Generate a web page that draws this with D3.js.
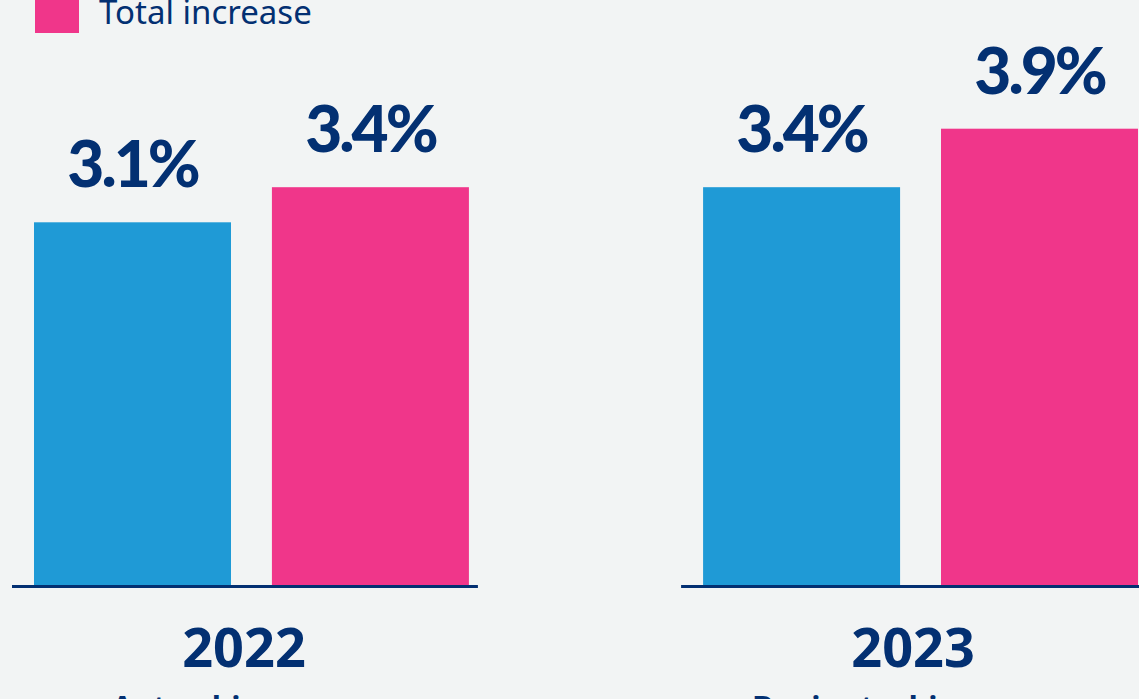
<!DOCTYPE html>
<html>
<head>
<meta charset="utf-8">
<script src="https://cdn.jsdelivr.net/npm/d3@7"></script>
<style>
  html, body { margin: 0; padding: 0; background: #f2f4f4; }
  svg { display: block; }
</style>
</head>
<body>
<svg id="chart"></svg>
<script>
// data
const years = ["2022", "2023"];
const yearNotes = ["Actual increase", "Projected increase"];
const series = ["Base increase", "Total increase"];
const baseValues = [3.1, 3.4];
const totalValues = [3.4, 3.9];

const width = 1139, height = 699;
const navy = "#033072";
const colors = { "Base increase": "#1f9ad6", "Total increase": "#f0368a" };

const svg = d3.select("#chart")
  .attr("width", width)
  .attr("height", height);

const rows = years.map(function (yr, i) {
  return { year: yr, note: yearNotes[i], values: [
    { key: series[0], value: baseValues[i] },
    { key: series[1], value: totalValues[i] }
  ] };
});

// scales
const x0 = d3.scaleBand()
  .domain(years)
  .range([34, 1138])
  .paddingInner(0.35)
  .paddingOuter(0);

const x1 = d3.scaleBand()
  .domain(series)
  .range([0, x0.bandwidth()])
  .paddingInner(0.172)
  .paddingOuter(0);

const y = d3.scaleLinear()
  .domain([0, 4])
  .range([585, 117]);

// legend (only the bottom item is visible)
const legend = svg.append("g").attr("transform", "translate(35, -11)");
legend.append("rect")
  .attr("width", 44)
  .attr("height", 44)
  .attr("fill", colors["Total increase"]);
legend.append("text")
  .attr("x", 64)
  .attr("y", 35)
  .attr("font-family", "'Noto Sans', 'Open Sans', sans-serif")
  .attr("font-size", 33)
  .attr("fill", navy)
  .text("Total increase");

const groups = svg.selectAll(".grp")
  .data(rows)
  .join("g")
  .attr("class", "grp")
  .attr("transform", function (d) { return `translate(${x0(d.year)}, 0)`; });

groups.selectAll("rect")
  .data(function (d) { return d.values; })
  .join("rect")
  .attr("x", function (d) { return x1(d.key); })
  .attr("y", function (d) { return y(d.value); })
  .attr("width", x1.bandwidth())
  .attr("height", function (d) { return y(0) - y(d.value); })
  .attr("fill", function (d) { return colors[d.key]; });

groups.selectAll(".val")
  .data(function (d) { return d.values; })
  .join("text")
  .attr("class", "val")
  .attr("x", function (d) { return x1(d.key) + x1.bandwidth() / 2; })
  .attr("y", function (d) { return y(d.value) - 35; })
  .attr("text-anchor", "middle")
  .attr("font-family", "Lato, sans-serif")
  .attr("font-weight", 900)
  .attr("font-size", 64)
  .attr("letter-spacing", -3)
  .attr("fill", navy)
  .text(function (d) { return d.value.toFixed(1) + "%"; });

// baseline
groups.append("line")
  .attr("x1", -22)
  .attr("x2", x0.bandwidth() + 9)
  .attr("y1", y(0) + 1.5)
  .attr("y2", y(0) + 1.5)
  .attr("stroke", navy)
  .attr("stroke-width", 3);

groups.append("text")
  .attr("x", 210)
  .attr("y", 667)
  .attr("text-anchor", "middle")
  .attr("font-family", "'Noto Sans', 'Open Sans', sans-serif")
  .attr("font-weight", 700)
  .attr("font-size", 54)
  .attr("fill", navy)
  .text(function (d) { return d.year; });

groups.append("text")
  .attr("x", 210)
  .attr("y", 722)
  .attr("text-anchor", "middle")
  .attr("font-family", "'Noto Sans', 'Open Sans', sans-serif")
  .attr("font-weight", 600)
  .attr("font-size", 36)
  .attr("fill", navy)
  .text(function (d) { return d.note; });
</script>
</body>
</html>
